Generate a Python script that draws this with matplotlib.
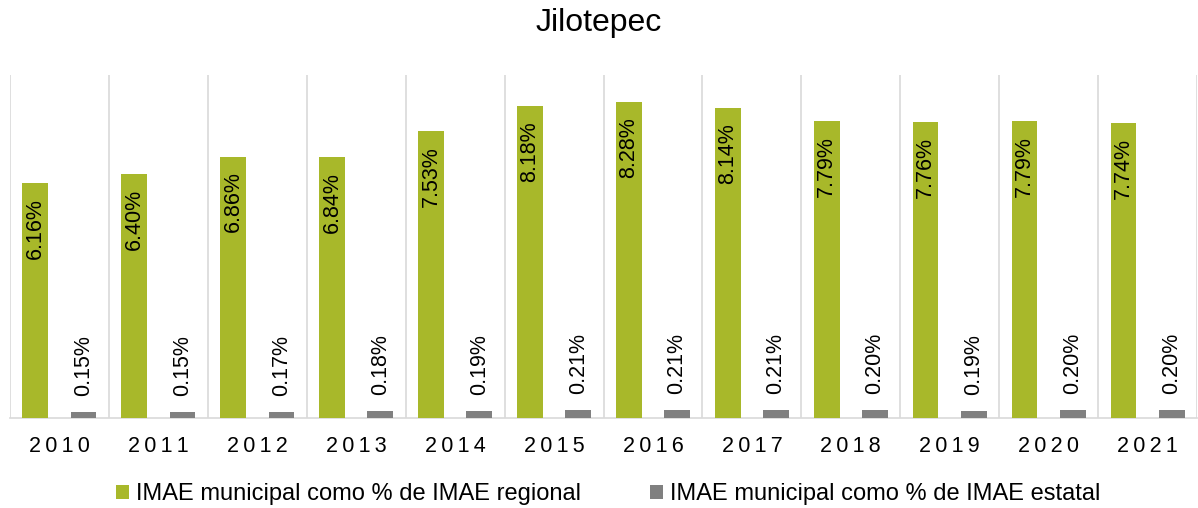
import matplotlib
matplotlib.use("Agg")
import matplotlib.pyplot as plt
from matplotlib.patches import Patch
import numpy as np

plt.rcParams['font.family'] = ['Liberation Sans', 'DejaVu Sans']

title = "Jilotepec"
years = ["2010", "2011", "2012", "2013", "2014", "2015", "2016", "2017", "2018", "2019", "2020", "2021"]
regional = [6.16, 6.40, 6.86, 6.84, 7.53, 8.18, 8.28, 8.14, 7.79, 7.76, 7.79, 7.74]
estatal = [0.15, 0.15, 0.17, 0.18, 0.19, 0.21, 0.21, 0.21, 0.20, 0.19, 0.20, 0.20]
series_names = ["IMAE municipal como % de IMAE regional", "IMAE municipal como % de IMAE estatal"]

GREEN = "#A8B82A"
GRAY = "#808080"
GRID = "#D9D9D9"

W, H = 1198, 508
fig = plt.figure(figsize=(W / 100, H / 100), dpi=100)
ax = fig.add_axes([10 / W, (H - 418) / H, (1197 - 10) / W, (418 - 75) / H])

x = np.arange(len(years))
bw = 0.26
off = 0.244
ax.bar(x - off, regional, width=bw, color=GREEN, zorder=3)
ax.bar(x + off, estatal, width=bw, color=GRAY, zorder=3)

ax.set_xlim(-0.5, len(years) - 0.5)
ax.set_ylim(0, 9.0)

for b in np.arange(-0.5, len(years), 1.0):
    ax.axvline(b, color=GRID, lw=1.2, zorder=1)

for s in ["top", "right", "left"]:
    ax.spines[s].set_visible(False)
ax.spines["bottom"].set_color(GRID)
ax.spines["bottom"].set_linewidth(1.2)
ax.set_yticks([])
ax.set_xticks(x)
ax.set_xticklabels(["\u2009".join(y) for y in years], fontsize=15.5, color="#000000")
ax.tick_params(axis="x", length=0, pad=13)

for xi, v in zip(x, regional):
    ax.annotate(f"{v:.2f}%", xy=(xi - off, v), xytext=(0, -15), textcoords="offset pixels",
                rotation=90, ha="center", va="top", fontsize=15.5, color="#000000", zorder=4)
for xi, v in zip(x, estatal):
    ax.annotate(f"{v:.2f}%", xy=(xi + off, v), xytext=(0, 16), textcoords="offset pixels",
                rotation=90, ha="center", va="bottom", fontsize=15.5, color="#000000", zorder=4)

fig.text(0.5, 1 - 23 / H, title, ha="center", va="center", fontsize=23, color="#000000")

handles = [Patch(facecolor=GREEN, edgecolor="none"), Patch(facecolor=GRAY, edgecolor="none")]
fig.legend(handles, series_names, loc="center", bbox_to_anchor=(608 / W, 1 - 494 / H), ncol=2,
           frameon=False, fontsize=17, handlelength=0.55, handleheight=0.55, handletextpad=0.3,
           columnspacing=2.9, borderaxespad=0, borderpad=0)

fig.savefig("out.png", dpi=100)
